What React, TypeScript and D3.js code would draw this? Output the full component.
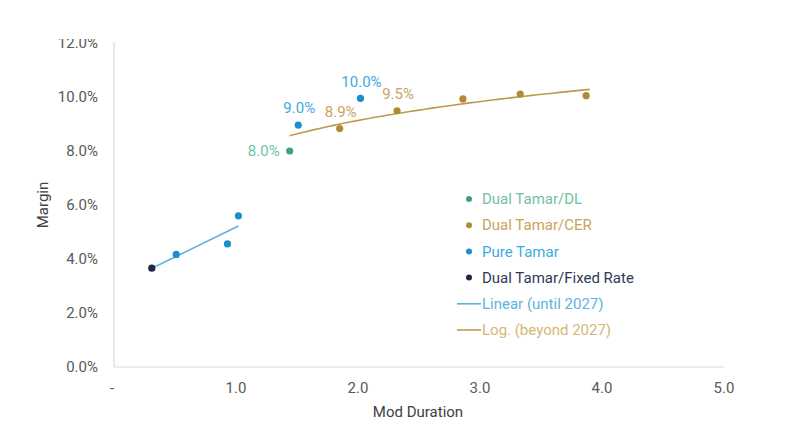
import React, { useEffect, useRef } from "react";
import * as d3 from "d3";

// Series (x = modified duration, y = margin %)
const dlX = [1.44];
const dlY = [8.0];
const cerX = [1.85, 2.32, 2.86, 3.33, 3.87];
const cerY = [8.83, 9.49, 9.93, 10.11, 10.05];
const pureX = [0.51, 0.93, 1.02, 1.51, 2.02];
const pureY = [4.17, 4.56, 5.6, 8.96, 9.95];
const fixedX = [0.31];
const fixedY = [3.66];

// Data labels shown on the chart
const labelTexts = ["8.0%", "9.0%", "10.0%", "8.9%", "9.5%"];
const labelSeries = ["dl", "pure", "pure", "cer", "cer"];
const labelIndex = [0, 3, 4, 0, 1];

const xTicks = [0, 1, 2, 3, 4, 5];
const yTicks = [0, 2, 4, 6, 8, 10, 12];

const legendNames = [
  "Dual Tamar/DL",
  "Dual Tamar/CER",
  "Pure Tamar",
  "Dual Tamar/Fixed Rate",
  "Linear (until 2027)",
  "Log. (beyond 2027)",
];

const FONT = "Roboto, 'Noto Sans', sans-serif";

const App: React.FC = () => {
  const svgRef = useRef<SVGSVGElement | null>(null);

  useEffect(() => {
    const svg = d3.select(svgRef.current);
    svg.selectAll("*").remove();

    const x = d3.scaleLinear().domain([0, 5]).range([114, 724]);
    const y = d3.scaleLinear().domain([0, 12]).range([367, 43]);

    const series: Record<string, { xs: number[]; ys: number[]; dot: string; text: string }> = {
      dl: { xs: dlX, ys: dlY, dot: "#3f9f7e", text: "#72bf9f" },
      cer: { xs: cerX, ys: cerY, dot: "#b38a34", text: "#c9a45f" },
      pure: { xs: pureX, ys: pureY, dot: "#1a8fcb", text: "#40abe0" },
      fixed: { xs: fixedX, ys: fixedY, dot: "#1b2945", text: "#2e3a55" },
    };
    const linearColor = "#5db3e0";
    const logColor = "#bf9a4c";

    // axes lines
    svg.append("line")
      .attr("x1", x(0)).attr("x2", x(0))
      .attr("y1", y(12) - 1).attr("y2", y(0))
      .attr("stroke", "#d9d9d9").attr("stroke-width", 1.2);
    svg.append("line")
      .attr("x1", x(0)).attr("x2", x(5))
      .attr("y1", y(0)).attr("y2", y(0))
      .attr("stroke", "#d9d9d9").attr("stroke-width", 1.2);

    // y ticks
    svg.append("g").selectAll("text").data(yTicks).join("text")
      .attr("x", 98).attr("y", (d) => y(d))
      .attr("dy", "0.35em")
      .attr("text-anchor", "end")
      .attr("font-family", FONT).attr("font-size", 15)
      .attr("fill", "#595959")
      .text((d) => d3.format(".1f")(d) + "%");

    // x ticks
    svg.append("g").selectAll("text").data(xTicks).join("text")
      .attr("x", (d) => (d === 0 ? x(d) - 2 : x(d)))
      .attr("y", 388)
      .attr("dy", "0.35em")
      .attr("text-anchor", "middle")
      .attr("font-family", FONT).attr("font-size", 15)
      .attr("fill", "#595959")
      .text((d) => (d === 0 ? "-" : d3.format(".1f")(d)));

    // axis titles
    svg.append("text")
      .attr("x", 418).attr("y", 412).attr("dy", "0.35em")
      .attr("text-anchor", "middle")
      .attr("font-family", FONT).attr("font-size", 15)
      .attr("fill", "#404040")
      .text("Mod Duration");
    svg.append("text")
      .attr("transform", "translate(43,205) rotate(-90)")
      .attr("dy", "0.35em")
      .attr("text-anchor", "middle")
      .attr("font-family", FONT).attr("font-size", 15)
      .attr("fill", "#404040")
      .text("Margin");

    // linear trend over the short-duration points
    const linX = [...fixedX, ...pureX.filter((v) => v <= 1.1)];
    const linY = [...fixedY, ...pureY.filter((_, i) => pureX[i] <= 1.1)];
    const mx = d3.mean(linX)!;
    const my = d3.mean(linY)!;
    const slope =
      d3.sum(linX, (v, i) => (v - mx) * (linY[i] - my)) /
      d3.sum(linX, (v) => (v - mx) ** 2);
    const linLine = d3.line<number>()
      .x((v) => x(v))
      .y((v) => y(my + slope * (v - mx)));
    svg.append("path")
      .attr("d", linLine([d3.min(linX)!, d3.max(linX)!]))
      .attr("fill", "none").attr("stroke", linearColor).attr("stroke-width", 1.6);

    // logarithmic trend over CER points
    const lx = cerX.map(Math.log);
    const lmx = d3.mean(lx)!;
    const lmy = d3.mean(cerY)!;
    const b =
      d3.sum(lx, (v, i) => (v - lmx) * (cerY[i] - lmy)) /
      d3.sum(lx, (v) => (v - lmx) ** 2);
    const logStart = dlX[0];
    const logEnd = d3.max(cerX)! + 0.03;
    const logXs = d3.range(0, 41).map((i) => logStart + ((logEnd - logStart) * i) / 40);
    const logLine = d3.line<number>()
      .x((v) => x(v))
      .y((v) => y(lmy + b * (Math.log(v) - lmx)))
      .curve(d3.curveMonotoneX);
    svg.append("path")
      .attr("d", logLine(logXs))
      .attr("fill", "none").attr("stroke", logColor).attr("stroke-width", 1.6);

    // points
    Object.values(series).forEach((s) => {
      svg.append("g").selectAll("circle").data(s.xs).join("circle")
        .attr("cx", (d) => x(d))
        .attr("cy", (_, i) => y(s.ys[i]))
        .attr("r", 3.6)
        .attr("fill", s.dot);
    });

    // data labels
    labelTexts.forEach((t, k) => {
      const s = series[labelSeries[k]];
      const px = x(s.xs[labelIndex[k]]);
      const py = y(s.ys[labelIndex[k]]);
      const left = labelSeries[k] === "dl";
      svg.append("text")
        .attr("x", left ? px - 10 : px + 1)
        .attr("y", left ? py : py - 17)
        .attr("dy", "0.35em")
        .attr("text-anchor", left ? "end" : "middle")
        .attr("font-family", FONT).attr("font-size", 15)
        .attr("fill", s.text)
        .text(t);
    });

    // legend
    const legendKeys = ["dl", "cer", "pure", "fixed"];
    const lg = svg.append("g");
    legendNames.forEach((name, i) => {
      const ly = 199 + i * 26.2;
      if (i < 4) {
        lg.append("circle")
          .attr("cx", 469).attr("cy", ly).attr("r", 3)
          .attr("fill", series[legendKeys[i]].dot);
      } else {
        lg.append("line")
          .attr("x1", 457).attr("x2", 481).attr("y1", ly).attr("y2", ly)
          .attr("stroke", i === 4 ? linearColor : logColor).attr("stroke-width", 1.6);
      }
      const color =
        i < 4 ? series[legendKeys[i]].text : i === 4 ? linearColor : "#d6b777";
      lg.append("text")
        .attr("x", 482).attr("y", ly).attr("dy", "0.35em")
        .attr("font-family", FONT).attr("font-size", 15)
        .attr("fill", color)
        .text(name);
    });

    // top edge of the picture crops the first tick label
    svg.append("rect")
      .attr("x", 0).attr("y", 0).attr("width", 800).attr("height", 39)
      .attr("fill", "#ffffff");
  }, []);

  return (
    <svg
      ref={svgRef}
      width={800}
      height={445}
      style={{ position: "absolute", left: 0, top: 0, background: "#ffffff" }}
    />
  );
};

export default App;
